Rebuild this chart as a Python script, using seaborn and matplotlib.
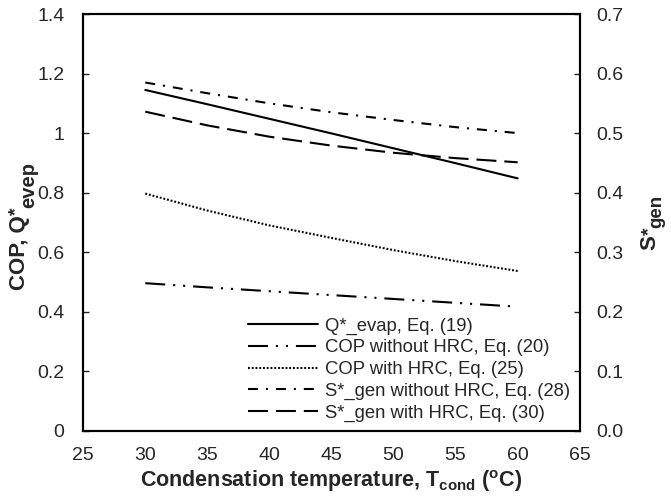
import numpy as np
import matplotlib
matplotlib.use("Agg")
import matplotlib.pyplot as plt
from matplotlib.transforms import IdentityTransform
import seaborn as sns

# Condensation temperature (deg C)
t_cond = [30, 35, 40, 45, 50, 55, 60]

# left axis: COP and Q*_evap
q_evap = [1.145, 1.097, 1.048, 0.999, 0.949, 0.899, 0.848]
cop_no_hrc = [0.496, 0.482, 0.469, 0.456, 0.443, 0.430, 0.417]
cop_hrc = [0.797, 0.740, 0.690, 0.648, 0.607, 0.570, 0.537]

# right axis: S*_gen
sgen_no_hrc = [0.585, 0.567, 0.550, 0.535, 0.522, 0.510, 0.500]
sgen_hrc = [0.536, 0.513, 0.494, 0.479, 0.467, 0.458, 0.451]

labels = ["Q*_evap, Eq. (19)", "COP without HRC, Eq. (20)", "COP with HRC, Eq. (25)",
          "S*_gen without HRC, Eq. (28)", "S*_gen with HRC, Eq. (30)"]

sns.set_style("white")
plt.rcParams['font.family'] = ['Liberation Sans', 'DejaVu Sans']
plt.rcParams['mathtext.fontset'] = 'custom'
plt.rcParams['mathtext.rm'] = 'Liberation Sans'
plt.rcParams['mathtext.bf'] = 'Liberation Sans:bold'
plt.rcParams['xtick.direction'] = 'in'
plt.rcParams['ytick.direction'] = 'in'

fig = plt.figure(figsize=(6.71, 5.01), dpi=100)
ax = fig.add_axes([0.124, 0.140, 0.740, 0.832])
ax2 = ax.twinx()

lw = 1.5
sns.lineplot(x=t_cond, y=q_evap, ax=ax, color='black', linewidth=lw, linestyle='-', label=labels[0])
sns.lineplot(x=t_cond, y=cop_no_hrc, ax=ax, color='black', linewidth=lw,
             linestyle=(0, (9.6, 3.8, 1, 3.8, 1, 3.8)), label=labels[1])
sns.lineplot(x=t_cond, y=cop_hrc, ax=ax, color='black', linewidth=lw,
             linestyle=(0, (0.9, 0.9)), label=labels[2])
sns.lineplot(x=t_cond, y=sgen_no_hrc, ax=ax2, color='black', linewidth=lw,
             linestyle=(0, (4.8, 3.8, 1, 3.8)), label=labels[3])
sns.lineplot(x=t_cond, y=sgen_hrc, ax=ax2, color='black', linewidth=lw,
             linestyle=(0, (9.6, 3.8)), label=labels[4])

ax.set_xlim(25, 65)
ax.set_ylim(0, 1.4)
ax2.set_ylim(0, 0.7)
ax.set_xticks([25, 30, 35, 40, 45, 50, 55, 60, 65])
ax.set_yticks([0, 0.2, 0.4, 0.6, 0.8, 1.0, 1.2, 1.4])
ax.set_yticklabels(['0', '0.2', '0.4', '0.6', '0.8', '1', '1.2', '1.4'])
ax2.set_yticks([0, 0.1, 0.2, 0.3, 0.4, 0.5, 0.6, 0.7])
ax2.set_yticklabels(['0.0', '0.1', '0.2', '0.3', '0.4', '0.5', '0.6', '0.7'])

for a in (ax, ax2):
    a.tick_params(labelsize=14, length=4, width=1)
    for s in a.spines.values():
        s.set_linewidth(1.5)
        s.set_color('black')
ax.tick_params(axis='x', pad=11.5)
ax.tick_params(axis='y', pad=13.5)
ax2.tick_params(axis='y', pad=12)

ax.set_xlabel("Condensation temperature, T$_{\\mathbf{cond}}$ ($^{\\mathbf{o}}$C)",
              fontsize=15.5, fontweight='bold', labelpad=3)
ax.set_ylabel("")
ax2.set_ylabel("")

h1, l1 = ax.get_legend_handles_labels()
h2, l2 = ax2.get_legend_handles_labels()
if ax.get_legend() is not None:
    ax.get_legend().remove()
ax2.legend(h1 + h2, l1 + l2, loc='lower left', bbox_to_anchor=(0.332, 0.022),
           frameon=False, fontsize=13.3, handlelength=3.8, handletextpad=0.38,
           labelspacing=0.25, borderpad=0, borderaxespad=0)


# rotated y labels with a large star and subscript, built piece by piece (pixels)
def rot_label(x, y, parts):
    r = fig.canvas.get_renderer()
    for s, size, dx in parts:
        t = fig.text(x + dx, y, s, rotation=90, rotation_mode='anchor', ha='left',
                     va='baseline', fontsize=size, fontweight='bold',
                     transform=IdentityTransform())
        y += t.get_window_extent(r).height


rot_label(25, 211, [("COP, Q", 16, 0), ("*", 14, -4), ("evep", 14.5, 9)])
rot_label(655, 251, [("S", 16, 0), ("*", 14, -1), ("gen", 13.5, 6)])

fig.savefig("out.png", dpi=100)
